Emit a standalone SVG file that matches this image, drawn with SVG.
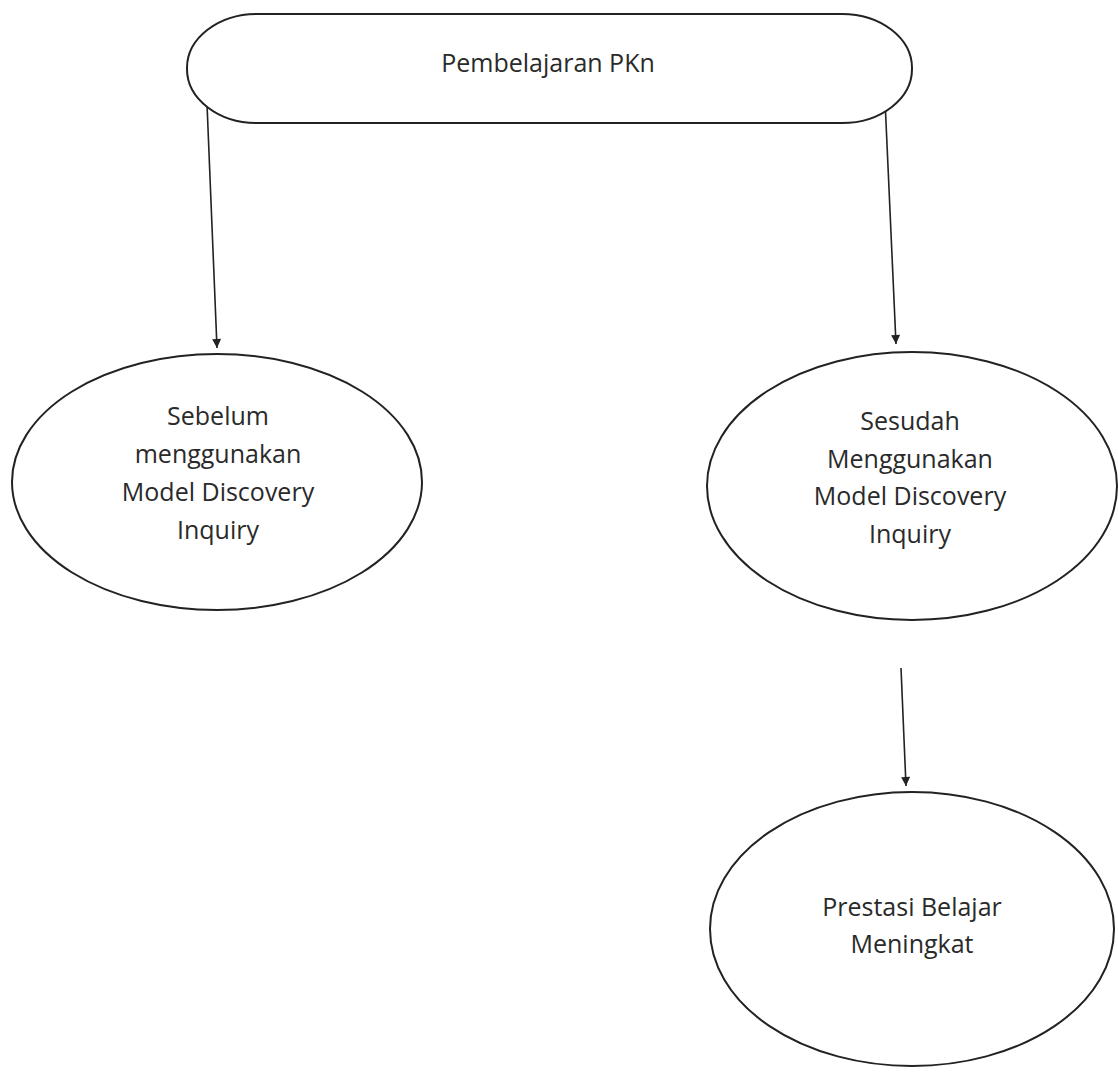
<svg xmlns="http://www.w3.org/2000/svg" width="1118" height="1079" viewBox="0 0 1118 1079">
<style>
.shape{fill:#fff;stroke:#222;stroke-width:2}
.lbl{font-family:"Open Sans","Noto Sans",sans-serif;font-size:25px;fill:#2a2a2a;text-anchor:middle}
.conn{stroke:#222;stroke-width:1.6;fill:none}
</style>
<defs>
<marker id="arr" viewBox="0 0 10 10" refX="10" refY="5" markerWidth="12" markerHeight="9" markerUnits="userSpaceOnUse" orient="auto">
<path d="M0,0 L10,5 L0,10 Z" fill="#222"/>
</marker>
</defs>
<rect width="1118" height="1079" fill="#fff"/>
<g id="connectors">
<line class="conn" x1="207" y1="104" x2="217" y2="348" marker-end="url(#arr)"/>
<line class="conn" x1="885" y1="100" x2="896" y2="344" marker-end="url(#arr)"/>
<line class="conn" x1="901" y1="668" x2="906" y2="786" marker-end="url(#arr)"/>
</g>
<g id="node-pkn">
<rect class="shape" x="187" y="14" width="725" height="109" rx="70" ry="54"/>
<text class="lbl" x="548" y="72">Pembelajaran PKn</text>
</g>
<g id="node-sebelum">
<ellipse class="shape" cx="217" cy="482" rx="205" ry="128"/>
<text class="lbl" x="218" y="425">Sebelum</text>
<text class="lbl" x="218" y="463">menggunakan</text>
<text class="lbl" x="218" y="501">Model Discovery</text>
<text class="lbl" x="218" y="539">Inquiry</text>
</g>
<g id="node-sesudah">
<ellipse class="shape" cx="912" cy="486" rx="205" ry="134"/>
<text class="lbl" x="910" y="430">Sesudah</text>
<text class="lbl" x="910" y="468">Menggunakan</text>
<text class="lbl" x="910" y="505">Model Discovery</text>
<text class="lbl" x="910" y="543">Inquiry</text>
</g>
<g id="node-prestasi">
<ellipse class="shape" cx="912" cy="929" rx="202" ry="137"/>
<text class="lbl" x="912" y="916">Prestasi Belajar</text>
<text class="lbl" x="912" y="953">Meningkat</text>
</g>
</svg>
